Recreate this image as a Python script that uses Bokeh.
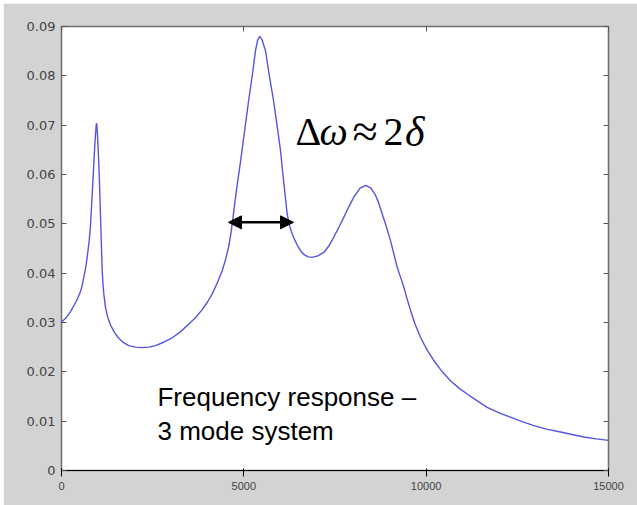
from bokeh.plotting import figure
from bokeh.models import Range1d, FixedTicker, LinearAxis, Label, Arrow, NormalHead
from bokeh.embed import file_html
from bokeh.resources import INLINE

# ---- data ----
freq = [0, 110, 247, 384, 460, 521, 570, 612, 660, 700, 760, 795, 823, 855,
        886, 910, 932, 948, 960, 972, 987, 1005, 1023, 1040, 1056, 1070, 1085,
        1100, 1116, 1138, 1160, 1207, 1270, 1344, 1450, 1571, 1700, 1846,
        2030, 2213, 2400, 2578, 2800, 3036, 3260, 3491, 3680, 3858, 4000,
        4133, 4270, 4407, 4500, 4588, 4640, 4690, 4800, 4909, 5020, 5128,
        5230, 5320, 5380, 5438, 5500, 5594, 5700, 5814, 5910, 6005, 6100,
        6189, 6240, 6300, 6380, 6463, 6550, 6644, 6760, 6875, 7030, 7193,
        7330, 7467, 7600, 7741, 7880, 8016, 8180, 8336, 8480, 8611, 8700,
        8794, 8910, 9022, 9110, 9205, 9296, 9387, 9480, 9570, 9700, 9844,
        10020, 10209, 10430, 10667, 10900, 11125, 11400, 11673, 12000,
        12312, 12630, 12951, 13300, 13684, 14000, 14323, 14660, 15000]
amp = [0.0301, 0.0308, 0.0322, 0.0340, 0.0352, 0.0363, 0.0376, 0.0392,
       0.0410, 0.0430, 0.0466, 0.0497, 0.0534, 0.0578, 0.0622, 0.0655,
       0.0680, 0.0697, 0.0704, 0.0697, 0.0680, 0.0652, 0.0622, 0.0587,
       0.0550, 0.0515, 0.0480, 0.0442, 0.0405, 0.0378, 0.0358, 0.0330,
       0.0310, 0.0295, 0.0280, 0.0268, 0.0259, 0.0253, 0.0250, 0.0249,
       0.0250, 0.0253, 0.0260, 0.0269, 0.0281, 0.0297, 0.0310, 0.0326,
       0.0341, 0.0358, 0.0380, 0.0405, 0.0428, 0.0455, 0.0478, 0.0505,
       0.0570, 0.0626, 0.0688, 0.0748, 0.0800, 0.0851, 0.0873, 0.0880,
       0.0873, 0.0851, 0.0800, 0.0750, 0.0700, 0.0649, 0.0580, 0.0520,
       0.0500, 0.0485, 0.0470, 0.0457, 0.0446, 0.0438, 0.0433, 0.0432,
       0.0435, 0.0442, 0.0455, 0.0473, 0.0492, 0.0513, 0.0535, 0.0554,
       0.0572, 0.0578, 0.0573, 0.0558, 0.0542, 0.0520, 0.0494, 0.0466,
       0.0440, 0.0412, 0.0392, 0.0372, 0.0347, 0.0325, 0.0296, 0.0270,
       0.0245, 0.0223, 0.0201, 0.0182, 0.0167, 0.0155, 0.0141, 0.0128,
       0.0117, 0.0108, 0.0099, 0.0091, 0.0084, 0.0078, 0.0073, 0.0068,
       0.0064, 0.0061]

x_ticks = [0, 5000, 10000, 15000]
x_tick_labels = ["0", "5000", "10000", "15000"]
y_ticks = [0, 0.01, 0.02, 0.03, 0.04, 0.05, 0.06, 0.07, 0.08, 0.09]
y_tick_labels = ["0", "0.01", "0.02", "0.03", "0.04", "0.05", "0.06", "0.07", "0.08", "0.09"]

# half-power bandwidth arrow (data coordinates)
arrow_x = [4579, 6362]
arrow_y = 0.0503

annotation_lines = ["Frequency response \u2013", "3 mode system"]

# ---- figure ----
p = figure(width=634, height=502, x_range=Range1d(0, 15000), y_range=Range1d(0, 0.09),
           output_backend="svg", toolbar_location=None,
           min_border_left=58, min_border_right=29, min_border_top=23, min_border_bottom=35)
p.margin = (3, 0, 0, 3)
p.border_fill_color = "#d3d3d3"
p.background_fill_color = "white"
p.outline_line_color = "#6e6e6e"
p.outline_line_width = 1.5
p.grid.visible = False

p.line(freq, amp, line_color="#5555dd", line_width=1.4)

x_ticker = FixedTicker(ticks=x_ticks)
y_ticker = FixedTicker(ticks=y_ticks)

p.xaxis.ticker = x_ticker
p.yaxis.ticker = y_ticker
p.xaxis.major_label_overrides = {t: s for t, s in zip(x_ticks, x_tick_labels)}
p.yaxis.major_label_overrides = {t: s for t, s in zip(y_ticks, y_tick_labels)}

top_ax = LinearAxis(ticker=x_ticker)
right_ax = LinearAxis(ticker=y_ticker)
p.add_layout(top_ax, "above")
p.add_layout(right_ax, "right")

for ax in [p.xaxis[0], p.yaxis[0], top_ax, right_ax]:
    ax.axis_line_color = None
    ax.major_tick_in = 5
    ax.major_tick_out = 0
    ax.major_tick_line_color = "#555555"
    ax.major_tick_line_width = 1
    ax.minor_tick_line_color = None
    ax.major_label_text_font = "DejaVu Sans"
    ax.major_label_text_color = "#444444"
    ax.major_label_text_font_size = "13px"
    ax.major_label_standoff = 6
for ax in [top_ax, right_ax]:
    ax.major_label_text_color = None
    ax.major_label_text_alpha = 0

# arrow
head = dict(size=13, fill_color="black", line_color="black")
p.add_layout(Arrow(x_start=arrow_x[0], y_start=arrow_y, x_end=arrow_x[1], y_end=arrow_y,
                   start=NormalHead(**head), end=NormalHead(**head),
                   line_color="black", line_width=2.5))

# formula  Δω ≈ 2δ
formula_parts = [("\u0394", 6417, "normal", "40px"), ("\u03c9", 7075, "italic", "40px"),
                 ("\u2248", 7980, "normal", "46px"), ("2", 8829, "normal", "40px"),
                 ("\u03b4", 9420, "italic", "42px")]
for txt, xx, style, size in formula_parts:
    p.add_layout(Label(x=xx, y=0.0687, text=txt, text_font="Liberation Serif",
                       text_font_size=size, text_font_style=style, text_color="black",
                       text_baseline="alphabetic", text_align="left"))

for txt, yy in zip(annotation_lines, [0.0148, 0.0081]):
    p.add_layout(Label(x=2632, y=yy, text=txt, text_font="Liberation Sans",
                       text_font_size="26px", text_color="black",
                       text_baseline="alphabetic", text_align="left"))

open("out.html", "w").write(file_html(p, INLINE))
